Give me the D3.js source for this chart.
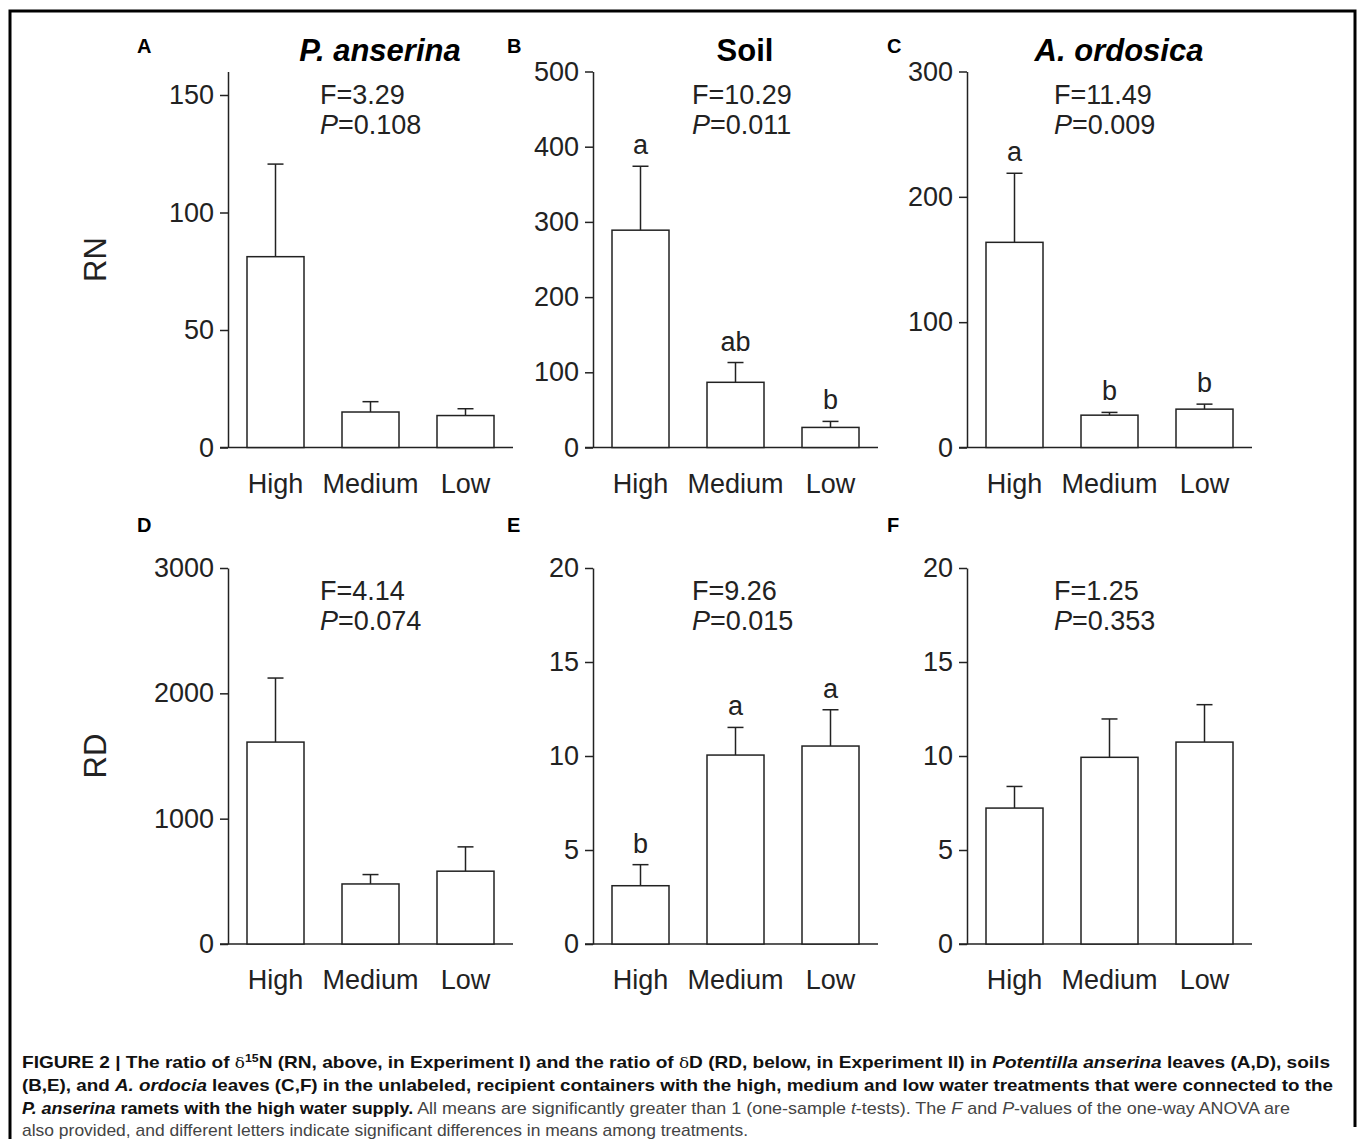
<!DOCTYPE html>
<html>
<head>
<meta charset="utf-8">
<script src="https://cdn.jsdelivr.net/npm/d3@7"></script>
<style>
  body { margin: 0; background: #fff; }
  svg { display: block; font-family: "Liberation Sans", Arial, sans-serif; }
  .axis path, .axis line { stroke: #222; stroke-width: 1.5; }
  .axis text { font-size: 27px; fill: #222; }
</style>
</head>
<body>
<div id="chart"></div>
<script>
// values (mean and standard error per treatment)
const categories = ["High", "Medium", "Low"];
const panelIds = ["A", "B", "C", "D", "E", "F"];
const panelTitles = ["P. anserina", "Soil", "A. ordosica", "", "", ""];
const titleItalic = [true, false, true, false, false, false];
const rowLabels = ["RN", "RD"];

const yMax = [160, 500, 300, 3000, 20, 20];
const yTicks = [
    [0, 50, 100, 150],
    [0, 100, 200, 300, 400, 500],
    [0, 100, 200, 300],
    [0, 1000, 2000, 3000],
    [0, 5, 10, 15, 20],
    [0, 5, 10, 15, 20]
];

const means = [
    [81.2, 15.1, 13.6],
    [289, 86.7, 26.7],
    [163.7, 25.8, 30.6],
    [1611, 479, 581],
    [3.1, 10.05, 10.53],
    [7.23, 9.93, 10.74]
];
const errors = [
    [39.4, 4.4, 2.9],
    [85, 26.3, 8],
    [55.1, 2.2, 4.0],
    [511, 75, 194],
    [1.12, 1.47, 1.93],
    [1.15, 2.04, 1.99]
];
const sigLetters = [
    null,
    ["a", "ab", "b"],
    ["a", "b", "b"],
    null,
    ["b", "a", "a"],
    null
];
const fValues = ["3.29", "10.29", "11.49", "4.14", "9.26", "1.25"];
const pValues = ["0.108", "0.011", "0.009", "0.074", "0.015", "0.353"];

// layout
const W = 1358, H = 1139;
const colAxisX = [228, 593, 967];
const rowTop = [71.5, 568];
const rowZero = [447.5, 944];
const plotW = 285;
const statOffset = [92, 99, 87];

const svg = d3.select("#chart").append("svg")
    .attr("width", W)
    .attr("height", H);

// frame around the figure
svg.append("path")
    .attr("d", "M10," + H + " V11 H1355 V1127")
    .attr("fill", "none")
    .attr("stroke", "#000")
    .attr("stroke-width", 3);

panelIds.forEach(function (id, i) {
    const col = i % 3, row = Math.floor(i / 3);
    const ax = colAxisX[col];

    const x = d3.scaleBand().domain(categories).range([0, plotW])
        .paddingInner(0.4).paddingOuter(0.2);
    const y = d3.scaleLinear().domain([0, yMax[i]]).range([rowZero[row], rowTop[row]]);

    const g = svg.append("g").attr("transform", "translate(" + ax + ",0)");

    // y axis
    g.append("g")
        .attr("class", "axis")
        .call(d3.axisLeft(y).tickValues(yTicks[i]).tickFormat(d3.format("d"))
            .tickSize(8).tickSizeOuter(0).tickPadding(6));

    // baseline
    g.append("line")
        .attr("x1", -8).attr("x2", plotW)
        .attr("y1", y(0)).attr("y2", y(0))
        .attr("stroke", "#222").attr("stroke-width", 1.5);

    // category labels
    g.append("g")
        .attr("class", "axis")
        .attr("transform", "translate(0," + y(0) + ")")
        .call(d3.axisBottom(x).tickSize(0).tickPadding(26))
        .call(a => a.select(".domain").remove());

    const data = categories.map((c, k) => ({ cat: c, mean: means[i][k], se: errors[i][k] }));

    // error bars (drawn first so the bar outline sits on top)
    g.selectAll(".err").data(data).enter().append("line")
        .attr("x1", d => x(d.cat) + x.bandwidth() / 2)
        .attr("x2", d => x(d.cat) + x.bandwidth() / 2)
        .attr("y1", d => y(d.mean))
        .attr("y2", d => y(d.mean + d.se))
        .attr("stroke", "#222").attr("stroke-width", 1.5);
    g.selectAll(".cap").data(data).enter().append("line")
        .attr("x1", d => x(d.cat) + x.bandwidth() / 2 - 8)
        .attr("x2", d => x(d.cat) + x.bandwidth() / 2 + 8)
        .attr("y1", d => y(d.mean + d.se))
        .attr("y2", d => y(d.mean + d.se))
        .attr("stroke", "#222").attr("stroke-width", 1.5);

    // bars
    g.selectAll(".bar").data(data).enter().append("rect")
        .attr("x", d => x(d.cat))
        .attr("y", d => y(d.mean))
        .attr("width", x.bandwidth())
        .attr("height", d => y(0) - y(d.mean))
        .attr("fill", "#fff")
        .attr("stroke", "#222").attr("stroke-width", 1.5);

    // significance letters
    if (sigLetters[i]) {
        g.selectAll(".sig").data(data).enter().append("text")
            .attr("x", d => x(d.cat) + x.bandwidth() / 2)
            .attr("y", d => y(d.mean + d.se) - 12)
            .attr("text-anchor", "middle")
            .attr("font-size", 27)
            .attr("fill", "#222")
            .text((d, k) => sigLetters[i][k]);
    }

    // ANOVA results
    const sx = statOffset[col];
    const st = rowTop[row] + 32;
    g.append("text")
        .attr("x", sx).attr("y", st)
        .attr("font-size", 27).attr("fill", "#222")
        .text("F=" + fValues[i]);
    const pt = g.append("text")
        .attr("x", sx).attr("y", st + 30)
        .attr("font-size", 27).attr("fill", "#222");
    pt.append("tspan").attr("font-style", "italic").text("P");
    pt.append("tspan").text("=" + pValues[i]);

    // panel letter
    svg.append("text")
        .attr("x", [137, 507, 887][col])
        .attr("y", row === 0 ? 53 : 532)
        .attr("font-size", 20).attr("font-weight", "bold")
        .text(id);

    // panel title
    if (panelTitles[i]) {
        g.append("text")
            .attr("x", 152).attr("y", 61)
            .attr("text-anchor", "middle")
            .attr("font-size", 31).attr("font-weight", "bold")
            .attr("font-style", titleItalic[i] ? "italic" : "normal")
            .text(panelTitles[i]);
    }

    // row label
    if (col === 0) {
        svg.append("text")
            .attr("transform", "translate(106," + (rowTop[row] + rowZero[row]) / 2 + ") rotate(-90)")
            .attr("text-anchor", "middle")
            .attr("font-size", 31).attr("fill", "#222")
            .text(rowLabels[row]);
    }
});

// caption
const capX = 22;
const capY = [1068, 1091, 1114, 1136];
const capW = [1308, 1311, 1268, 726];
const captionLines = [
    [["FIGURE 2 | The ratio of ", "b"], ["δ", "d"], ["15", "sup"], ["N (RN, above, in Experiment I) and the ratio of ", "b"], ["δ", "d"],
     ["D (RD, below, in Experiment II) in ", "b"], ["Potentilla anserina", "bi"], [" leaves (A,D), soils", "b"]],
    [["(B,E), and ", "b"], ["A. ordocia", "bi"], [" leaves (C,F) in the unlabeled, recipient containers with the high, medium and low water treatments that were connected to the", "b"]],
    [["P. anserina", "bi"], [" ramets with the high water supply.", "b"], [" All means are significantly greater than 1 (one-sample ", "n"], ["t", "i"],
     ["-tests). The ", "n"], ["F", "i"], [" and ", "n"], ["P", "i"], ["-values of the one-way ANOVA are", "n"]],
    [["also provided, and different letters indicate significant differences in means among treatments.", "n"]]
];

captionLines.forEach(function (parts, li) {
    const t = svg.append("text")
        .attr("x", capX).attr("y", capY[li])
        .attr("font-size", 17)
        .attr("textLength", capW[li])
        .attr("lengthAdjust", "spacingAndGlyphs");
    parts.forEach(function (p) {
        const s = t.append("tspan").text(p[0]);
        const style = p[1];
        const bold = style === "b" || style === "bi" || style === "sup";
        s.attr("font-weight", bold ? "bold" : "normal");
        s.attr("fill", (bold || style === "d") ? "#111" : "#444");
        if (style === "bi" || style === "i") s.attr("font-style", "italic");
        if (style === "d") s.attr("font-family", "'DejaVu Serif', serif").attr("font-size", 15);
        if (style === "sup") s.attr("font-size", 11).attr("baseline-shift", "super");
    });
});
</script>
</body>
</html>
